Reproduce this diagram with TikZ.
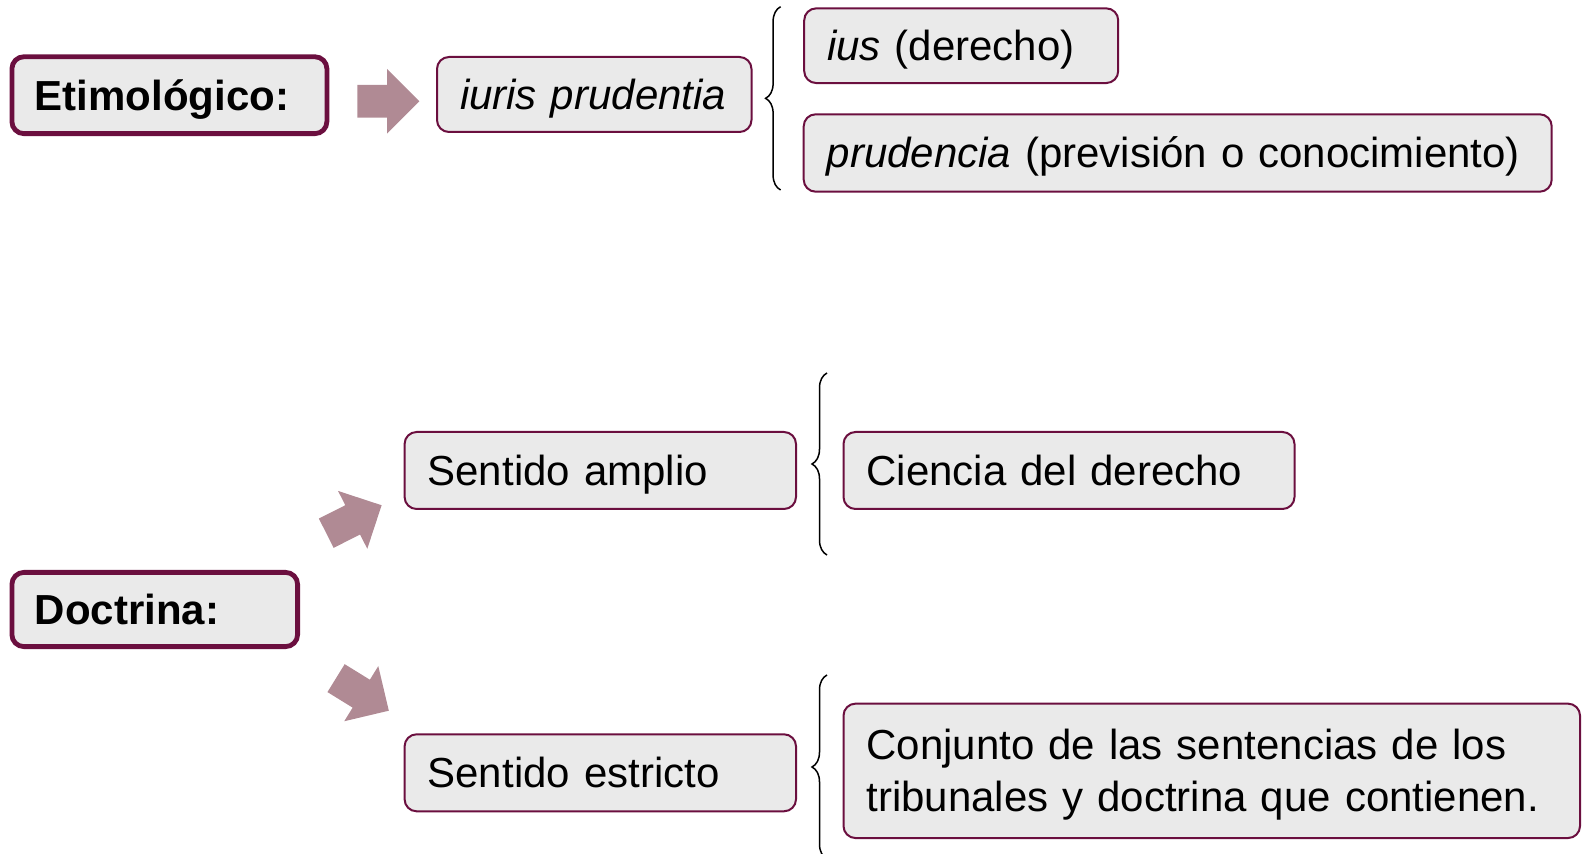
\documentclass[tikz,border=0pt]{standalone}
\usepackage{fontspec}
\setmainfont{Liberation Sans}
\usetikzlibrary{shapes.arrows,decorations.pathreplacing}
\definecolor{boxborder}{HTML}{6B0F3F}
\definecolor{boxfill}{HTML}{EAEAEA}
\definecolor{arrowfill}{HTML}{B08A94}
\begin{document}
\begin{tikzpicture}[x=0.5pt,y=-0.5pt,
  box/.style={draw=boxborder, fill=boxfill, line width=1pt, rounded corners=6pt,
    inner xsep=11.5pt, inner ysep=0pt, align=left,
    font=\fontsize{21}{26}\selectfont, text height=17pt, text depth=2pt},
  thickbox/.style={box, line width=2.4pt, font=\fontsize{21}{26}\selectfont\bfseries},
  blockarrow/.style={single arrow, fill=arrowfill, draw=none, inner xsep=0pt, inner ysep=8pt,
    text height=0pt, text depth=0pt, anchor=tip,
    minimum width=32pt, minimum height=31pt, single arrow head extend=8pt},
  grp/.style={decorate, decoration={brace, amplitude=7.5pt}, line width=0.75pt}]
\useasboundingbox (0,0) rectangle (1583,854);

% top row
\node[thickbox, text width=134.5pt, minimum height=38.45pt] (etim) at (169.4,95.2) {Etimológico:};
\node[blockarrow] (a1) at (420,101.2) {};
\node[box, text width=134.25pt, minimum height=37.5pt] (iuris) at (594.25,94.5) {\textit{iuris prudentia}};
\node[box, text width=134pt, minimum height=37.35pt] (ius) at (961.2,45.7) {\textit{ius} (derecho)};
\node[box, text width=351pt, minimum height=38.7pt] (prud) at (1177.7,153) {\textit{prudencia} (previsión o conocimiento)};
\draw[grp] (780.6,190) -- (780.6,6.7);

% bottom part
\node[thickbox, text width=119.85pt, minimum height=37.1pt] (doct) at (154.75,609.5) {Doctrina:};
\node[blockarrow, rotate=26.8] (a2) at (382.1,505) {};
\node[blockarrow, rotate=-31.7] (a3) at (389.3,711) {};
\node[box, text width=172.7pt, minimum height=38.5pt] (amplio) at (600.3,470.5) {Sentido amplio};
\node[box, text width=172.7pt, minimum height=38.5pt] (estricto) at (600.3,772.8) {Sentido estricto};
\draw[grp] (827,555) -- (827,373);
\node[box, text width=202.5pt, minimum height=38.5pt] (ciencia) at (1069,470.5) {Ciencia del derecho};
\draw[grp] (827,859) -- (827,675);
\node[box, text width=345.25pt, minimum height=67.2pt, text height={}, text depth={}] (conj) at (1211.75,770.85)
  {\rule{0pt}{19pt}Conjunto de las sentencias de los\\tribunales y doctrina que contienen.};
\end{tikzpicture}
\end{document}
